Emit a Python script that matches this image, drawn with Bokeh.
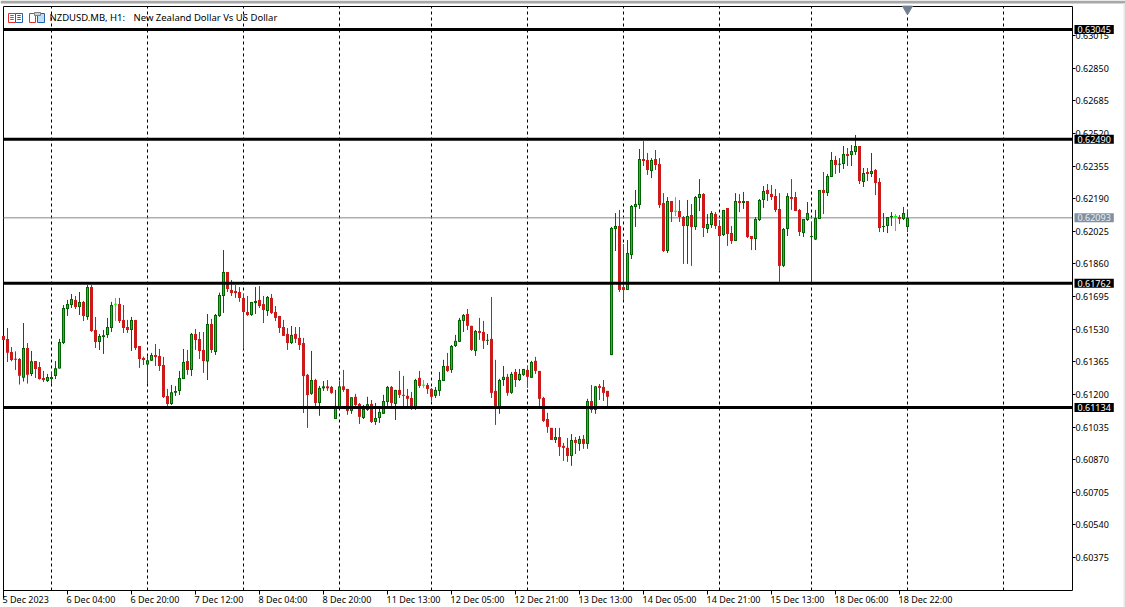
from bokeh.plotting import figure
from bokeh.models import FixedTicker, Label, BoxAnnotation, Range1d, PrintfTickFormatter, LinearAxis
from bokeh.embed import file_html
from bokeh.resources import INLINE
import numpy as np

open_prices = [
0.61496,0.61481,0.61415,0.61379,0.61379,0.61285,0.61435,0.61304,0.61369,0.61339,
0.61283,0.61268,0.61278,0.61293,0.61331,0.61460,0.61632,0.61652,0.61678,0.61642,
0.61668,0.61592,0.61743,0.61526,0.61465,0.61491,0.61501,0.61536,0.61656,0.61657,
0.61577,0.61541,0.61526,0.61577,0.61445,0.61384,0.61351,0.61371,0.61400,0.61395,
0.61349,0.61192,0.61152,0.61208,0.61218,0.61278,0.61369,0.61324,0.61506,0.61481,
0.61425,0.61366,0.61556,0.61415,0.61597,0.61698,0.61819,0.61728,0.61723,0.61718,
0.61688,0.61617,0.61602,0.61662,0.61678,0.61657,0.61622,0.61688,0.61617,0.61597,
0.61541,0.61506,0.61460,0.61506,0.61486,0.61460,0.61299,0.61203,0.61273,0.61157,
0.61231,0.61241,0.61238,0.61076,0.61137,0.61241,0.61228,0.61117,0.61188,0.61152,
0.61081,0.61122,0.61152,0.61061,0.61081,0.61102,0.61162,0.61238,0.61152,0.61223,
0.61198,0.61193,0.61182,0.61135,0.61284,0.61247,0.61248,0.61228,0.61193,0.61218,
0.61268,0.61344,0.61324,0.61445,0.61466,0.61572,0.61607,0.61547,0.61420,0.61521,
0.61516,0.61473,0.61481,0.61218,0.61135,0.61273,0.61289,0.61208,0.61314,0.61273,
0.61299,0.61324,0.61284,0.61370,0.61319,0.61182,0.61076,0.61031,0.60970,0.60985,
0.60940,0.60930,0.60889,0.60970,0.60950,0.60975,0.60950,0.61167,0.61122,0.61243,
0.61238,0.61218,0.61399,0.62037,0.62052,0.61743,0.61728,0.61905,0.62148,0.62158,
0.62390,0.62385,0.62330,0.62390,0.62365,0.62168,0.61925,0.62178,0.62126,0.62127,
0.62097,0.62052,0.62107,0.62047,0.62193,0.62213,0.62037,0.62057,0.62112,0.62052,
0.62006,0.62143,0.62016,0.61976,0.62178,0.62168,0.62178,0.62001,0.61986,0.62082,
0.62183,0.62234,0.62213,0.62203,0.62138,0.61850,0.62037,0.62198,0.62198,0.62133,
0.62016,0.62082,0.61998,0.61984,0.62087,0.62234,0.62218,0.62299,0.62385,0.62363,
0.62365,0.62416,0.62411,0.62426,0.62456,0.62274,0.62325,0.62315,0.62335,0.62274,
0.62049,0.62052,0.62096,0.62100,0.62097,0.62087,0.62047]

high_prices = [
0.61496,0.61536,0.61440,0.61418,0.61384,0.61561,0.61460,0.61420,0.61369,0.61364,
0.61319,0.61304,0.61314,0.61369,0.61481,0.61652,0.61678,0.61708,0.61698,0.61718,
0.61673,0.61753,0.61753,0.61592,0.61506,0.61526,0.61587,0.61668,0.61688,0.61688,
0.61652,0.61577,0.61592,0.61577,0.61445,0.61391,0.61395,0.61410,0.61455,0.61430,
0.61390,0.61228,0.61248,0.61243,0.61319,0.61430,0.61425,0.61511,0.61531,0.61516,
0.61516,0.61607,0.61582,0.61607,0.61715,0.61930,0.61819,0.61779,0.61753,0.61743,
0.61708,0.61698,0.61668,0.61743,0.61748,0.61698,0.61698,0.61708,0.61647,0.61597,
0.61577,0.61536,0.61546,0.61541,0.61541,0.61486,0.61304,0.61420,0.61279,0.61243,
0.61268,0.61273,0.61243,0.61223,0.61268,0.61324,0.61228,0.61186,0.61203,0.61157,
0.61147,0.61188,0.61172,0.61157,0.61127,0.61198,0.61243,0.61243,0.61223,0.61319,
0.61294,0.61228,0.61213,0.61279,0.61319,0.61273,0.61258,0.61233,0.61238,0.61314,
0.61375,0.61410,0.61450,0.61501,0.61587,0.61607,0.61632,0.61547,0.61526,0.61587,
0.61572,0.61506,0.61693,0.61375,0.61279,0.61344,0.61304,0.61314,0.61329,0.61329,
0.61329,0.61344,0.61370,0.61390,0.61319,0.61188,0.61107,0.61031,0.61031,0.61031,
0.60955,0.60980,0.61000,0.60985,0.60990,0.60995,0.61178,0.61248,0.61243,0.61253,
0.61273,0.61218,0.62047,0.62117,0.62133,0.61961,0.61981,0.62158,0.62234,0.62441,
0.62481,0.62421,0.62395,0.62436,0.62395,0.62218,0.62198,0.62178,0.62198,0.62183,
0.62102,0.62183,0.62163,0.62203,0.62289,0.62218,0.62112,0.62127,0.62122,0.62082,
0.62133,0.62143,0.62052,0.62218,0.62213,0.62224,0.62178,0.62001,0.62097,0.62188,
0.62254,0.62264,0.62259,0.62239,0.62218,0.62042,0.62218,0.62289,0.62224,0.62138,
0.62087,0.62173,0.62072,0.62133,0.62234,0.62325,0.62315,0.62426,0.62406,0.62395,
0.62456,0.62446,0.62461,0.62512,0.62456,0.62345,0.62345,0.62421,0.62340,0.62294,
0.62117,0.62097,0.62122,0.62112,0.62107,0.62148,0.62133]

low_prices = [
0.61475,0.61364,0.61368,0.61324,0.61250,0.61265,0.61255,0.61293,0.61283,0.61275,
0.61263,0.61263,0.61253,0.61278,0.61331,0.61455,0.61597,0.61637,0.61632,0.61602,
0.61571,0.61577,0.61516,0.61435,0.61425,0.61405,0.61486,0.61516,0.61571,0.61561,
0.61511,0.61511,0.61420,0.61425,0.61334,0.61349,0.61253,0.61369,0.61344,0.61319,
0.61182,0.61142,0.61147,0.61192,0.61197,0.61278,0.61299,0.61293,0.61425,0.61379,
0.61309,0.61273,0.61410,0.61400,0.61592,0.61612,0.61718,0.61698,0.61688,0.61668,
0.61430,0.61597,0.61597,0.61607,0.61637,0.61561,0.61597,0.61607,0.61571,0.61511,
0.61496,0.61425,0.61455,0.61460,0.61425,0.61106,0.61031,0.61198,0.61142,0.61092,
0.61218,0.61218,0.61203,0.61076,0.61137,0.61213,0.61097,0.61102,0.61142,0.61051,
0.61076,0.61117,0.61056,0.61046,0.61056,0.61102,0.61142,0.61142,0.61071,0.61182,
0.61142,0.61137,0.61122,0.61122,0.61233,0.61233,0.61203,0.61167,0.61182,0.61193,
0.61268,0.61314,0.61309,0.61440,0.61466,0.61516,0.61526,0.61420,0.61395,0.61476,
0.61430,0.61450,0.61182,0.61046,0.61102,0.61243,0.61193,0.61203,0.61238,0.61268,
0.61294,0.61233,0.61284,0.61304,0.61142,0.61061,0.61006,0.60970,0.60955,0.60889,
0.60864,0.60859,0.60839,0.60899,0.60915,0.60925,0.60925,0.61107,0.61102,0.61172,
0.61167,0.61139,0.61399,0.61925,0.61718,0.61678,0.61728,0.61885,0.62047,0.62138,
0.62355,0.62310,0.62294,0.62335,0.62143,0.61920,0.61915,0.62072,0.62102,0.62072,
0.61860,0.61860,0.61850,0.62032,0.62127,0.61996,0.62016,0.62042,0.62037,0.61824,
0.62001,0.61951,0.61961,0.61976,0.62122,0.62138,0.61991,0.61930,0.61930,0.62077,
0.62143,0.62178,0.62183,0.62122,0.61769,0.61844,0.62001,0.62133,0.62127,0.62001,
0.61996,0.62077,0.61769,0.61981,0.62087,0.62112,0.62203,0.62299,0.62315,0.62320,
0.62340,0.62355,0.62355,0.62411,0.62264,0.62249,0.62279,0.62299,0.62208,0.62021,
0.62021,0.62016,0.62052,0.62026,0.62062,0.62082,0.62021]

close_prices = [
0.61475,0.61411,0.61374,0.61376,0.61295,0.61435,0.61300,0.61368,0.61329,0.61278,
0.61273,0.61288,0.61288,0.61332,0.61465,0.61637,0.61657,0.61683,0.61642,0.61668,
0.61597,0.61743,0.61521,0.61465,0.61496,0.61499,0.61541,0.61652,0.61656,0.61571,
0.61536,0.61526,0.61577,0.61435,0.61379,0.61374,0.61373,0.61400,0.61390,0.61344,
0.61187,0.61152,0.61211,0.61218,0.61283,0.61364,0.61324,0.61506,0.61475,0.61420,
0.61369,0.61556,0.61425,0.61602,0.61703,0.61819,0.61733,0.61713,0.61713,0.61688,
0.61617,0.61602,0.61668,0.61673,0.61647,0.61627,0.61693,0.61612,0.61587,0.61536,
0.61496,0.61460,0.61501,0.61481,0.61450,0.61293,0.61197,0.61273,0.61157,0.61233,
0.61241,0.61231,0.61208,0.61142,0.61241,0.61223,0.61117,0.61186,0.61147,0.61087,
0.61127,0.61151,0.61061,0.61081,0.61112,0.61167,0.61238,0.61157,0.61223,0.61198,
0.61193,0.61178,0.61137,0.61273,0.61243,0.61247,0.61228,0.61188,0.61223,0.61273,
0.61344,0.61319,0.61445,0.61471,0.61577,0.61602,0.61547,0.61425,0.61521,0.61511,
0.61471,0.61475,0.61208,0.61135,0.61273,0.61289,0.61208,0.61304,0.61273,0.61304,
0.61329,0.61289,0.61364,0.61319,0.61178,0.61066,0.61036,0.60970,0.60985,0.60935,
0.60930,0.60889,0.60970,0.60955,0.60975,0.60950,0.61167,0.61122,0.61241,0.61233,
0.61208,0.61188,0.62042,0.62052,0.61728,0.61728,0.61915,0.62153,0.62163,0.62390,
0.62380,0.62335,0.62385,0.62360,0.62158,0.61925,0.62178,0.62122,0.62126,0.62097,
0.62052,0.62102,0.62047,0.62198,0.62213,0.62042,0.62062,0.62117,0.62052,0.62001,
0.62133,0.62011,0.61976,0.62178,0.62168,0.62178,0.61996,0.61986,0.62087,0.62183,
0.62229,0.62213,0.62198,0.62133,0.61850,0.62037,0.62203,0.62188,0.62127,0.62021,
0.62087,0.62117,0.61999,0.62092,0.62234,0.62218,0.62304,0.62385,0.62360,0.62364,
0.62416,0.62406,0.62431,0.62456,0.62279,0.62320,0.62315,0.62330,0.62269,0.62042,
0.62050,0.62097,0.62102,0.62100,0.62087,0.62117,0.62093]

y_ticks = [0.63015,0.62850,0.62685,0.62520,0.62355,0.62190,0.62025,0.61860,0.61695,
           0.61530,0.61365,0.61200,0.61035,0.60870,0.60705,0.60540,0.60375]
time_labels = ["5 Dec 2023","6 Dec 04:00","6 Dec 20:00","7 Dec 12:00","8 Dec 04:00","8 Dec 20:00",
               "11 Dec 13:00","12 Dec 05:00","12 Dec 21:00","13 Dec 13:00","14 Dec 05:00",
               "14 Dec 21:00","15 Dec 13:00","18 Dec 06:00","18 Dec 22:00"]
time_bars = [0,16,32,48,64,80,96,112,128,144,160,176,192,208,224]
grid_bars = [12,36,60,84,107,131,155,179,202,226,250]
level_prices = [0.63045,0.62490,0.61762,0.61134]
last_price = 0.62093
title_symbol = "NZDUSD.MB, H1:"
title_name = "New Zealand Dollar Vs US Dollar"

FONT = "Noto Sans"
UP_EDGE, UP_FILL = "#006400", "#00D800"
DOWN_EDGE, DOWN_FILL = "#B22222", "#CC1A1A"
DOJI = "#00FF00"
TAG_GREY = "#8090A0"

o, h, l, c = map(np.array, (open_prices, high_prices, low_prices, close_prices))
x = np.arange(len(o))

W, H = 1125, 607
PX_PER_BAR = 4.0
px = 0.00005056                # price per screen pixel
# plot box inside the canvas
box_x0, box_x1 = 0.0, 267.25   # in bars
box_y1 = 0.631615              # top of the box
box_y0 = box_y1 - 584 * px     # bottom of the box

x_range = Range1d(box_x0 - 3 / PX_PER_BAR, box_x0 + (W - 3) / PX_PER_BAR)
y_range = Range1d(box_y1 - (H - 6) * px, box_y1 + 6 * px)

p = figure(width=W, height=H, output_backend="svg", toolbar_location=None,
           x_range=x_range, y_range=y_range, x_axis_type=None, y_axis_type=None,
           min_border_left=0, min_border_right=0, min_border_top=0, min_border_bottom=0,
           frame_width=W, frame_height=H,
           background_fill_color="white", border_fill_color="white", outline_line_color=None)
p.grid.visible = False

ax = LinearAxis(fixed_location=box_x1, bounds=(box_y0, box_y1),
                ticker=FixedTicker(ticks=y_ticks), formatter=PrintfTickFormatter(format="%.5f"),
                major_tick_in=0, major_tick_out=3, minor_tick_out=0, minor_tick_in=0,
                axis_line_color="black", major_tick_line_color="black",
                major_label_text_font=FONT, major_label_text_font_size="9px",
                major_label_text_color="black", major_label_standoff=0)
p.add_layout(ax, "right")

bx = LinearAxis(fixed_location=box_y0, bounds=(box_x0, box_x1),
                ticker=FixedTicker(ticks=time_bars),
                major_tick_in=0, major_tick_out=4, minor_tick_out=0, minor_tick_in=0,
                axis_line_color="black", major_tick_line_color="black",
                major_label_text_font_size="0px", major_label_text_color=None)
p.add_layout(bx, "below")

for lab, b in zip(time_labels, time_bars):
    p.add_layout(Label(x=b, x_units="data", y=599, y_units="canvas", x_offset=-1, text=lab,
                       text_font=FONT, text_font_size="9px", text_color="black", text_align="left",
                       text_baseline="middle", level="annotation"))

# box edges at the top and the left
p.segment(box_x0, box_y1, box_x1, box_y1, line_color="black", line_width=1)
p.segment(box_x0, box_y0 - 8 * px, box_x0, box_y1, line_color="black", line_width=1)

# dashed time grid and last price line behind the candles
p.segment(grid_bars, box_y0, grid_bars, box_y1, line_color="black", line_width=1, line_dash="3 3")
p.segment(box_x0, last_price, box_x1, last_price, line_color="#808890", line_width=1)

up = c > o
down = c < o
doji = c == o

def body_edges(mask):
    top = np.maximum(o, c)[mask]
    bot = np.minimum(o, c)[mask]
    thin = (top - bot) < px
    mid = (top + bot) / 2
    top = np.where(thin, mid + px / 2, top)
    bot = np.where(thin, mid - px / 2, bot)
    return top, bot

# wicks
for mask, col in ((up, UP_EDGE), (down, DOWN_EDGE), (doji, DOJI)):
    p.segment(x[mask], h[mask], x[mask], l[mask], line_color=col, line_width=1)

# bodies
t, b = body_edges(up)
p.vbar(x[up], width=0.75, top=t, bottom=b, fill_color=UP_EDGE, line_color=None)
inner = (t - b) > 2 * px
p.vbar(x[up][inner], width=0.25, top=(t - px)[inner], bottom=(b + px)[inner], fill_color=UP_FILL,
       line_color=None)
t, b = body_edges(down)
p.vbar(x[down], width=0.75, top=t, bottom=b, fill_color=DOWN_FILL, line_color=None)
t, b = body_edges(doji)
p.vbar(x[doji], width=0.75, top=t, bottom=b, fill_color=DOJI, line_color=None)

# horizontal levels
p.segment(box_x0, level_prices, box_x1, level_prices, line_color="black", line_width=3)

# marker above the last bar
p.scatter([x[-1]], [box_y1 - 2.5 * px], marker="inverted_triangle", size=10,
          fill_color="#708090", line_color="#708090")

# price tags
for lv in level_prices:
    p.add_layout(Label(x=1074, x_units="canvas", y=lv, y_units="data", text=f"{lv:.5f}",
                       text_font=FONT, text_font_size="9px", text_color="white",
                       text_align="left", text_baseline="middle", level="annotation",
                       background_fill_color="black", padding=(3, 1)))
p.add_layout(Label(x=1074, x_units="canvas", y=last_price, y_units="data", text=f"{last_price:.5f}",
                   text_font=FONT, text_font_size="9px", text_color="#E8EEF4",
                   text_align="left", text_baseline="middle", level="annotation",
                   background_fill_color=TAG_GREY, padding=(3, 1)))

# title
p.add_layout(Label(x=49, x_units="canvas", y=17, y_units="canvas", text=title_symbol,
                   text_font=FONT, text_font_size="9.5px", text_color="black",
                   text_align="left", text_baseline="middle", level="overlay"))
p.add_layout(Label(x=133, x_units="canvas", y=17, y_units="canvas", text=title_name,
                   text_font=FONT, text_font_size="9.5px", text_color="black",
                   text_align="left", text_baseline="middle", level="overlay"))

def box(l_, r_, t_, b_, fill, line, level="overlay", lw=1):
    p.add_layout(BoxAnnotation(left=l_, right=r_, top=t_, bottom=b_, left_units="canvas",
                               right_units="canvas", top_units="canvas", bottom_units="canvas",
                               fill_color=fill, fill_alpha=1, line_color=line, line_alpha=1,
                               line_width=lw, level=level))

# window edge
box(0, 1125, 0, 3, "#A8A8A8", None, "annotation")
box(1123, 1125, 3, 607, "#E8E8E8", None, "annotation")
# icons
box(8, 15, 13, 22, "white", "#E03030")
box(15, 22, 13, 22, "white", "#2060B0")
box(10, 13, 15, 15, None, "#E03030")
box(10, 13, 17, 17, None, "#E03030")
box(10, 13, 19, 19, None, "#E03030")
box(17, 20, 15, 15, None, "#2060B0")
box(17, 20, 17, 17, None, "#2060B0")
box(17, 20, 19, 19, None, "#2060B0")
box(29, 35, 13, 22, "white", "#E03030")
box(37, 44, 13, 22, "#BFDDF5", "#2060B0")
box(34, 40, 12, 15, "#D0D0D0", "#808080")

open("out.html", "w").write(file_html(p, INLINE))
